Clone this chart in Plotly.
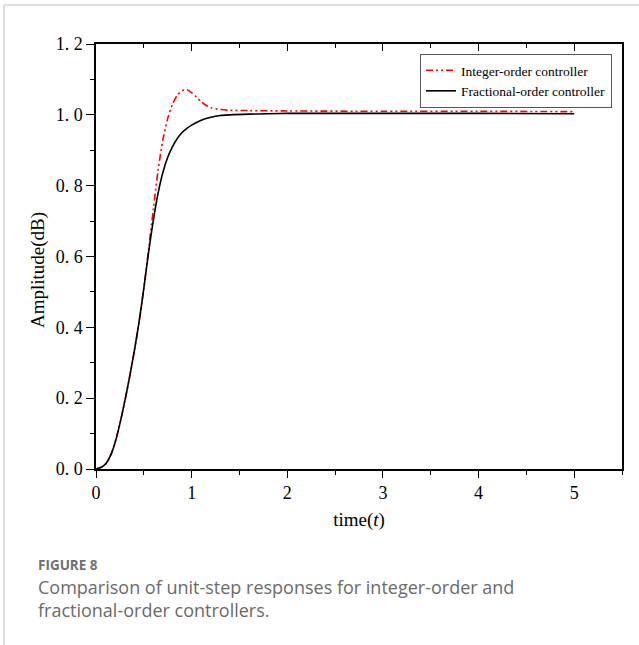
import plotly.graph_objects as go

# Data
t_frac = [0, 0.05, 0.1, 0.15, 0.2, 0.25, 0.3, 0.35, 0.4, 0.45, 0.5, 0.55, 0.6, 0.65, 0.7,
          0.75, 0.8, 0.85, 0.9, 0.95, 1.0, 1.1, 1.2, 1.3, 1.4, 1.6, 1.8, 2.0, 2.5, 3.0, 4.0, 5.0]
y_frac = [0, 0.004, 0.014, 0.037, 0.075, 0.128, 0.190, 0.258, 0.332, 0.415, 0.510, 0.612, 0.703,
          0.780, 0.838, 0.880, 0.910, 0.933, 0.950, 0.962, 0.971, 0.985, 0.993, 0.998, 1.000,
          1.002, 1.003, 1.004, 1.004, 1.004, 1.004, 1.003]

t_int = [0, 0.05, 0.1, 0.15, 0.2, 0.25, 0.3, 0.35, 0.4, 0.45, 0.5, 0.55, 0.6, 0.65, 0.7,
         0.75, 0.8, 0.85, 0.9, 0.95, 1.0, 1.05, 1.1, 1.15, 1.2, 1.3, 1.4, 1.6, 2.0, 3.0, 4.0, 5.0]
y_int = [0, 0.004, 0.014, 0.037, 0.075, 0.128, 0.190, 0.258, 0.332, 0.415, 0.510, 0.620, 0.735,
         0.845, 0.930, 0.990, 1.030, 1.055, 1.068, 1.071, 1.063, 1.050, 1.037, 1.027, 1.020,
         1.015, 1.013, 1.012, 1.011, 1.010, 1.010, 1.009]

y_tickvals = [0, 0.2, 0.4, 0.6, 0.8, 1.0, 1.2]
y_ticktext = ["0. 0", "0. 2", "0. 4", "0. 6", "0. 8", "1. 0", "1. 2"]
x_tickvals = [0, 1, 2, 3, 4, 5]
x_ticktext = ["0", "1", "2", "3", "4", "5"]

series_names = ["Integer-order controller", "Fractional-order controller"]

W, H = 639, 645
L, R, T, B = 96, 622, 44, 469  # plot area in pixels
SERIF = "Liberation Serif"
SANS = "Open Sans"

def px(x):
    return (x - L) / (R - L)

def py(y):
    return (B - y) / (B - T)

fig = go.Figure()
fig.add_trace(go.Scatter(
    x=t_int, y=y_int, mode="lines", name=series_names[0],
    line=dict(color="#ff0000", width=1.6, dash="7px,3px,2px,3px,2px,3px", shape="spline", smoothing=0.8),
))
fig.add_trace(go.Scatter(
    x=t_frac, y=y_frac, mode="lines", name=series_names[1],
    line=dict(color="#000000", width=1.6, shape="spline", smoothing=0.8),
))
fig.add_trace(go.Scatter(x=[0], y=[0], xaxis="x2", mode="markers",
                         marker=dict(opacity=0), showlegend=False, hoverinfo="skip"))

fig.update_layout(
    width=W, height=H,
    margin=dict(l=L, r=W - R, t=T, b=H - B, pad=0),
    paper_bgcolor="white", plot_bgcolor="white",
    font=dict(family=SERIF, color="#000000", size=15),
    showlegend=True,
    legend=dict(
        x=px(612), y=py(54), xanchor="right", yanchor="top",
        bordercolor="#555555", borderwidth=1, bgcolor="white",
        font=dict(family=SERIF, size=13.5, color="#000"),
        tracegroupgap=0, itemwidth=30,
    ),
    xaxis=dict(
        range=[0, 5.5], tickvals=x_tickvals, ticktext=x_ticktext,
        ticks="outside", ticklen=7, tickwidth=1.3, tickcolor="#000",
        minor=dict(dtick=0.5, ticks="outside", ticklen=4, tickwidth=1.3, tickcolor="#000", showgrid=False),
        showline=True, linecolor="#000", linewidth=1.5, mirror=True,
        showgrid=False, zeroline=False,
        tickfont=dict(family=SERIF, size=18),
        title=dict(text="time(<i>t</i>)", font=dict(family=SERIF, size=19), standoff=10),
    ),
    xaxis2=dict(
        range=[0, 5.5], overlaying="x", side="top", tickvals=x_tickvals,
        ticks="inside", ticklen=7, tickwidth=1.3, tickcolor="#000",
        minor=dict(dtick=0.5, ticks="inside", ticklen=4, tickwidth=1.3, tickcolor="#000", showgrid=False),
        showticklabels=False, showline=True, linecolor="#000", linewidth=1.5,
        showgrid=False, zeroline=False,
    ),
    yaxis=dict(
        range=[0, 1.2], tickvals=y_tickvals, ticktext=y_ticktext,
        ticks="outside", ticklen=8, tickwidth=1.3, tickcolor="#000",
        minor=dict(dtick=0.1, ticks="outside", ticklen=4, tickwidth=1.3, tickcolor="#000", showgrid=False),
        showline=True, linecolor="#000", linewidth=1.5, mirror=True,
        showgrid=False, zeroline=False,
        tickfont=dict(family=SERIF, size=18),
    ),
)

# y-axis title placed as rotated text
fig.add_annotation(text="Amplitude(dB)", xref="paper", yref="paper",
                   x=px(38), y=py(270), xanchor="center", yanchor="middle",
                   textangle=-90, showarrow=False,
                   font=dict(family=SERIF, size=19, color="#000"))

# page frame lines
fig.add_shape(type="line", xref="paper", yref="paper",
              x0=px(4), x1=px(639), y0=py(5), y1=py(5),
              line=dict(color="#d4d4d4", width=1.5))
fig.add_shape(type="line", xref="paper", yref="paper",
              x0=px(4), x1=px(4), y0=py(5), y1=py(645),
              line=dict(color="#d4d4d4", width=1.5))

# caption
fig.add_annotation(text="<b>FIGURE 8</b>", xref="paper", yref="paper",
                   x=px(36), y=py(565), xanchor="left", yanchor="middle", showarrow=False,
                   font=dict(family=SANS, size=13.5, color="#707070"))
fig.add_annotation(text="Comparison of unit-step responses for integer-order and<br>"
                        "fractional-order controllers.",
                   xref="paper", yref="paper", x=px(36), y=py(598), xanchor="left",
                   yanchor="middle", align="left", showarrow=False,
                   font=dict(family=SANS, size=18, color="#6a6a6a"))

fig.write_html("out.html", config={"displayModeBar": False},
               post_script="document.body.style.margin='0';")
